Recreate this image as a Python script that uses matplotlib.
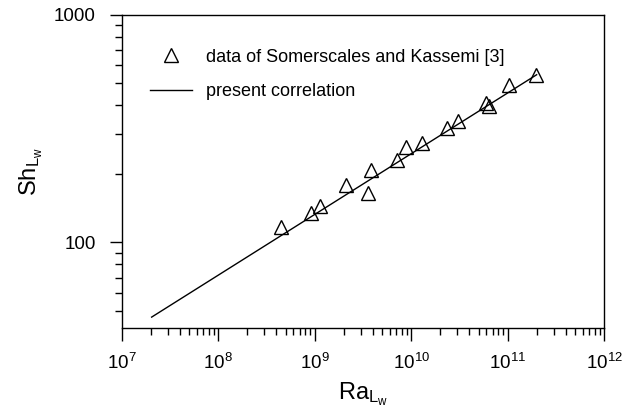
import matplotlib
matplotlib.use("Agg")
import matplotlib.pyplot as plt
from matplotlib.ticker import LogLocator, NullFormatter, FuncFormatter

plt.rcParams['font.family'] = ['Liberation Sans', 'DejaVu Sans']
plt.rcParams['mathtext.fontset'] = 'custom'
plt.rcParams['mathtext.rm'] = 'Liberation Sans'
plt.rcParams['mathtext.it'] = 'Liberation Sans:italic'

# data of Somerscales and Kassemi [3]
ra_data = [4.49e8, 9.13e8, 1.13e9, 2.12e9, 3.54e9, 3.80e9, 7.17e9, 8.84e9,
           1.29e10, 2.35e10, 3.08e10, 5.90e10, 6.41e10, 1.035e11, 1.97e11]
sh_data = [116.8, 134.6, 145.1, 178.3, 164.9, 209.1, 229.7, 262.9,
           272.2, 316.9, 342.2, 411.7, 397.2, 491.6, 544.0]

# present correlation (straight line on log-log axes)
ra_corr = [2.03e7, 2.0e11]
sh_corr = [46.9, 546.0]

fig = plt.figure(figsize=(6.36, 4.13), dpi=100)
ax = fig.add_axes([0.1918, 0.2058, 0.7579, 0.7579])

ax.plot(ra_data, sh_data, linestyle='none', marker='^', markersize=10,
        markerfacecolor='none', markeredgecolor='black', markeredgewidth=1.0,
        label='data of Somerscales and Kassemi [3]')
ax.plot(ra_corr, sh_corr, color='black', linewidth=1.0,
        label='present correlation')

ax.set_xscale('log')
ax.set_yscale('log')
ax.set_xlim(1e7, 1e12)
ax.set_ylim(42, 1000)

ax.xaxis.set_major_locator(LogLocator(base=10, numticks=10))
ax.xaxis.set_minor_locator(LogLocator(base=10, subs=range(2, 10), numticks=20))
ax.xaxis.set_minor_formatter(NullFormatter())
ax.yaxis.set_major_locator(LogLocator(base=10, numticks=10))
ax.yaxis.set_minor_locator(LogLocator(base=10, subs=range(2, 10), numticks=20))
ax.yaxis.set_minor_formatter(NullFormatter())
ax.yaxis.set_major_formatter(FuncFormatter(lambda v, p: '%d' % round(v)))

ax.tick_params(which='major', direction='out', length=9, width=1,
               labelsize=13.5, top=False, right=False)
ax.tick_params(axis='x', which='major', pad=9)
ax.tick_params(axis='y', which='major', pad=10)
ax.tick_params(which='minor', direction='out', length=5, width=1,
               top=False, right=False)

for s in ax.spines.values():
    s.set_linewidth(1.0)

ax.set_xlabel(r'$\mathrm{Ra}_{\mathrm{L}_{\mathrm{w}}}$', fontsize=17, labelpad=5)
ax.set_ylabel(r'$\mathrm{Sh}_{\mathrm{L}_{\mathrm{w}}}$', fontsize=17, labelpad=6)

ax.legend(loc='upper left', bbox_to_anchor=(0.021, 0.95), frameon=False,
          fontsize=13, handlelength=2.3, handletextpad=0.8, labelspacing=0.95,
          borderaxespad=0.6)

fig.savefig('out.png', dpi=100)
